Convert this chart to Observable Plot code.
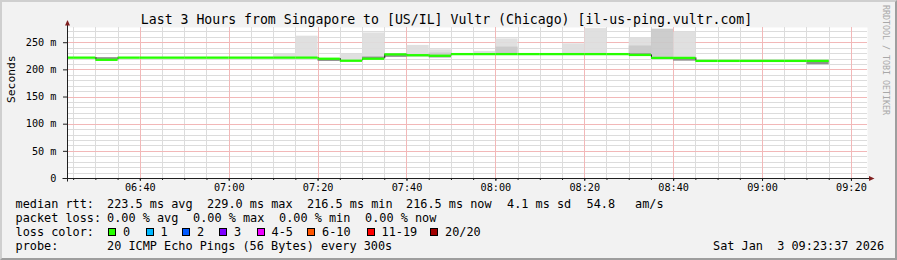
<!DOCTYPE html>
<html>
<head>
<meta charset="utf-8">
<script src="https://cdn.jsdelivr.net/npm/d3@7"></script>
<script src="https://cdn.jsdelivr.net/npm/@observablehq/plot@0.6"></script>
<style>
html, body { margin: 0; padding: 0; background: #f2f2f2; }
#wrap { position: relative; width: 897px; height: 260px; background: #f2f2f2; overflow: hidden;
  font-family: "DejaVu Sans Mono", monospace; color: #000; }
#frame { position: absolute; left: 0; top: 0; width: 897px; height: 260px; box-sizing: border-box;
  border-top: 2px solid #cfcfcf; border-left: 2px solid #cfcfcf;
  border-right: 2px solid #9e9e9e; border-bottom: 2px solid #9e9e9e; pointer-events: none; background: transparent; }
#title { position: absolute; left: 0; width: 893px; top: 12px; line-height: 16px; text-align: center;
  font-size: 13.2px; white-space: pre; }
#chart { position: absolute; left: 0; top: 0; width: 897px; height: 196px; }
.lg { position: absolute; font-size: 11.85px; line-height: 14px; white-space: pre; }
.box { position: absolute; width: 8px; height: 8px; box-sizing: border-box; border: 1px solid #000; }
#rrd { position: absolute; left: 881px; top: 5px; writing-mode: vertical-rl; font-size: 8.3px;
  line-height: 10px; color: #a8a8a8; white-space: pre; }
</style>
</head>
<body>
<div id="wrap">
  <div id="chart"></div>
  <div id="title"></div>
  <div id="rrd"></div>
  <div id="legend"></div>
  <div id="frame"></div>
</div>
<script>
// ---------------- data ----------------
const titleText = "Last 3 Hours from Singapore to [US/IL] Vultr (Chicago) [il-us-ping.vultr.com]";
const yAxisTitle = "Seconds";
const sideText = "RRDTOOL / TOBI OETIKER";

// 5-minute bins (start time)
const binStart = ["06:20","06:25","06:30","06:35","06:40","06:45","06:50","06:55",
  "07:00","07:05","07:10","07:15","07:20","07:25","07:30","07:35","07:40","07:45",
  "07:50","07:55","08:00","08:05","08:10","08:15","08:20","08:25","08:30","08:35",
  "08:40","08:45","08:50","08:55","09:00","09:05","09:10"];
// median RTT per bin (ms)
const medianMs = [222.5,222.5,218.5,222.5,222.5,222.5,222.5,222.5,
  222.5,222.5,222.5,222.5,220.5,216.8,220.5,228.5,227,226,
  229,229,229,229,229,229,229,229,227.5,222,
  222,216.5,216.5,216.5,216.5,216.5,216.5];

// smoke bands (ping spread) per bin: band rank outer / inner / core
const smokeTime = ["06:30","07:10","07:15","07:20","07:25","07:30","07:30","07:35",
  "07:40","07:40","07:45","07:45","07:45","07:55","08:00","08:00","08:15","08:20",
  "08:30","08:30","08:30","08:35","08:40","08:40","09:10"];
const smokeLo = [218.5,222.5,222.5,215.5,216.8,220.5,220.5,223,
  227,224,226,226,222,229,229,229,229,229,
  227.5,227.5,227.5,222,222,216,209.5];
const smokeHi = [222.5,230,262,220.5,229,268,223.5,228.5,
  245,227,237,231,226,234,257,242,248,276,
  259,244,229.5,275,269,222,216.5];
const smokeBand = ["core","outer","outer","core","outer","outer","core","core",
  "outer","core","outer","inner","core","outer","outer","inner","outer","outer",
  "outer","inner","core","inner","outer","core","core"];

const yTicks = [0, 50, 100, 150, 200, 250];

// legend texts
const rttHead = "median rtt:";
const rttStats = ["223.5 ms avg", "229.0 ms max", "216.5 ms min", "216.5 ms now", "4.1 ms sd", "54.8", "am/s"];
const lossHead = "packet loss:";
const lossStats = ["0.00 % avg", "0.00 % max", "0.00 % min", "0.00 % now"];
const colorHead = "loss color:";
const lossLabels = ["0", "1", "2", "3", "4-5", "6-10", "11-19", "20/20"];
const probeHead = "probe:";
const probeText = "20 ICMP Echo Pings (56 Bytes) every 300s";
const stampText = "Sat Jan  3 09:23:37 2026";

// ---------------- styles / layout ----------------
const lossPalette = ["#26ff00", "#00b8ff", "#0059ff", "#7e00ff", "#ee00ff", "#ff5500", "#ff0000", "#a10000"];
const smokeOrder = ["outer", "inner", "core"];
const smokePalette = ["#dddddd", "#c9c9c9", "#858585"];
const rttX = [107, 207, 307, 406, 507, 586.5, 635];
const lossX = [107, 193, 279, 365];
const boxX = [108, 145.5, 182, 219, 256.5, 307, 366.5, 430];

// ---------------- build ----------------
const t = (hm, s = 0) => { const [h, m] = hm.split(":").map(Number); return new Date(Date.UTC(2026, 0, 3, h, m, s)); };
const STEP = 5 * 60 * 1000;
const start = t("06:23", 37), end = t("09:23", 37);

const bins = binStart.map((s, i) => ({start: t(s), end: new Date(+t(s) + STEP), median: medianMs[i]}));
const smoke = smokeTime.map((s, i) => ({start: t(s), end: new Date(+t(s) + STEP), lo: smokeLo[i], hi: smokeHi[i], band: smokeBand[i]}))
  .sort((a, b) => smokeOrder.indexOf(a.band) - smokeOrder.indexOf(b.band));
const steps = bins.slice(1).map((b, i) => ({x: b.start, y1: bins[i].median, y2: b.median})).filter(d => d.y1 !== d.y2);

const minor5 = d3.utcMinute.every(5).range(start, end);
const major20 = d3.utcMinute.every(20).range(start, end);
const yMinor = d3.range(10, 280, 10).filter(v => v % 50 !== 0);
const yMajor = d3.range(50, 280, 50);

// grid drawn through the plot's own scales (thin light lines)
function gridMark(index, scales, values, dims) {
  const g = d3.create("svg:g").attr("aria-label", "grid");
  const L = dims.marginLeft, R = dims.width - dims.marginRight;
  const T = dims.marginTop, B = dims.height - dims.marginBottom;
  const px = v => Math.round(v) + 0.5;
  const vline = (d, c) => { const X = px(scales.x(d)); g.append("line").attr("x1", X).attr("x2", X).attr("y1", T).attr("y2", B)
    .attr("stroke", c).attr("stroke-width", 1); };
  const hline = (v, c) => { const Y = px(scales.y(v)); g.append("line").attr("x1", L).attr("x2", R).attr("y1", Y).attr("y2", Y)
    .attr("stroke", c).attr("stroke-width", 1); };
  minor5.filter(d => d.getUTCMinutes() % 20 !== 0).forEach(d => vline(d, "#dcdcdc"));
  yMinor.forEach(v => hline(v, "#dcdcdc"));
  major20.forEach(d => vline(d, "#f2b8b8"));
  yMajor.forEach(v => hline(v, "#f2b8b8"));
  return g.node();
}

function axesMark(index, scales, values, dims) {
  const g = d3.create("svg:g").attr("aria-label", "axis-lines");
  const x0 = dims.marginLeft, y0 = dims.height - dims.marginBottom;
  const xr = dims.width - dims.marginRight, yt = dims.marginTop;
  g.append("line").attr("x1", x0 - 4.5).attr("x2", xr + 2.5).attr("y1", y0 + 0.5).attr("y2", y0 + 0.5).attr("stroke", "#1f1f1f");
  g.append("line").attr("x1", x0 + 0.5).attr("x2", x0 + 0.5).attr("y1", y0 + 3.5).attr("y2", yt - 2).attr("stroke", "#1f1f1f");
  g.append("path").attr("d", `M${xr + 2},${y0 - 2}L${xr + 7.5},${y0 + 0.5}L${xr + 2},${y0 + 3}Z`).attr("fill", "#801f1f");
  g.append("path").attr("d", `M${x0 - 2},${yt - 1.5}L${x0 + 0.5},${yt - 7}L${x0 + 3},${yt - 1.5}Z`).attr("fill", "#801f1f");
  return g.node();
}

const plot = Plot.plot({
  width: 897, height: 196,
  marginLeft: 67, marginRight: 30, marginTop: 27, marginBottom: 18,
  x: {type: "utc", domain: [start, end]},
  y: {domain: [0, 278]},
  color: {domain: smokeOrder, range: smokePalette},
  style: {background: "transparent", overflow: "visible", maxWidth: "none", fontFamily: "'DejaVu Sans Mono', monospace", fontSize: "10.2px", color: "#000"},
  marks: [
    Plot.frame({fill: "white", stroke: "none"}),
    gridMark,
    Plot.rectY(smoke, {x1: "start", x2: "end", y1: "lo", y2: "hi", fill: "band", fillOpacity: 0.92, clip: true}),
    Plot.ruleX(steps, {x: "x", y1: "y1", y2: "y2", stroke: "#1a1a1a", strokeWidth: 1, clip: true}),
    Plot.ruleY(bins, {y: "median", x1: "start", x2: "end", stroke: lossPalette[0], strokeWidth: 2.3, clip: true}),
    Plot.axisX({ticks: minor5, tickFormat: () => "", tickSize: 2, label: null, stroke: "#1f1f1f"}),
    Plot.axisX({ticks: major20, tickFormat: d3.utcFormat("%H:%M"), tickSize: 3, tickPadding: 2.5, label: null, stroke: "#1f1f1f"}),
    Plot.axisY({ticks: yTicks, tickFormat: d => d === 0 ? "0" : `${d} m`, tickSize: 4, tickPadding: 7, label: null, stroke: "#1f1f1f"}),
    axesMark,
    Plot.text([yAxisTitle], {text: d => d, frameAnchor: "left", rotate: -90, dx: -56, fontSize: 11.3})
  ]
});
document.getElementById("chart").appendChild(plot);
document.getElementById("title").textContent = titleText;
document.getElementById("rrd").textContent = sideText;

// legend
const lg = document.getElementById("legend");
function put(text, x, y) {
  const s = document.createElement("div");
  s.className = "lg"; s.style.left = x + "px"; s.style.top = y + "px"; s.textContent = text;
  lg.appendChild(s);
}
const rowTop = [197, 211, 225, 239];
put(rttHead, 15.5, rowTop[0]);
rttStats.forEach((s, i) => put(s, rttX[i], rowTop[0]));
put(lossHead, 15.5, rowTop[1]);
lossStats.forEach((s, i) => put(s, lossX[i], rowTop[1]));
put(colorHead, 15.5, rowTop[2]);
lossLabels.forEach((s, i) => {
  const b = document.createElement("div");
  b.className = "box"; b.style.left = boxX[i] + "px"; b.style.top = (rowTop[2] + 3) + "px";
  b.style.background = lossPalette[i];
  lg.appendChild(b);
  put(s, boxX[i] + 15, rowTop[2]);
});
put(probeHead, 15.5, rowTop[3]);
put(probeText, 107, rowTop[3]);
put(stampText, 713, rowTop[3]);
</script>
</body>
</html>
